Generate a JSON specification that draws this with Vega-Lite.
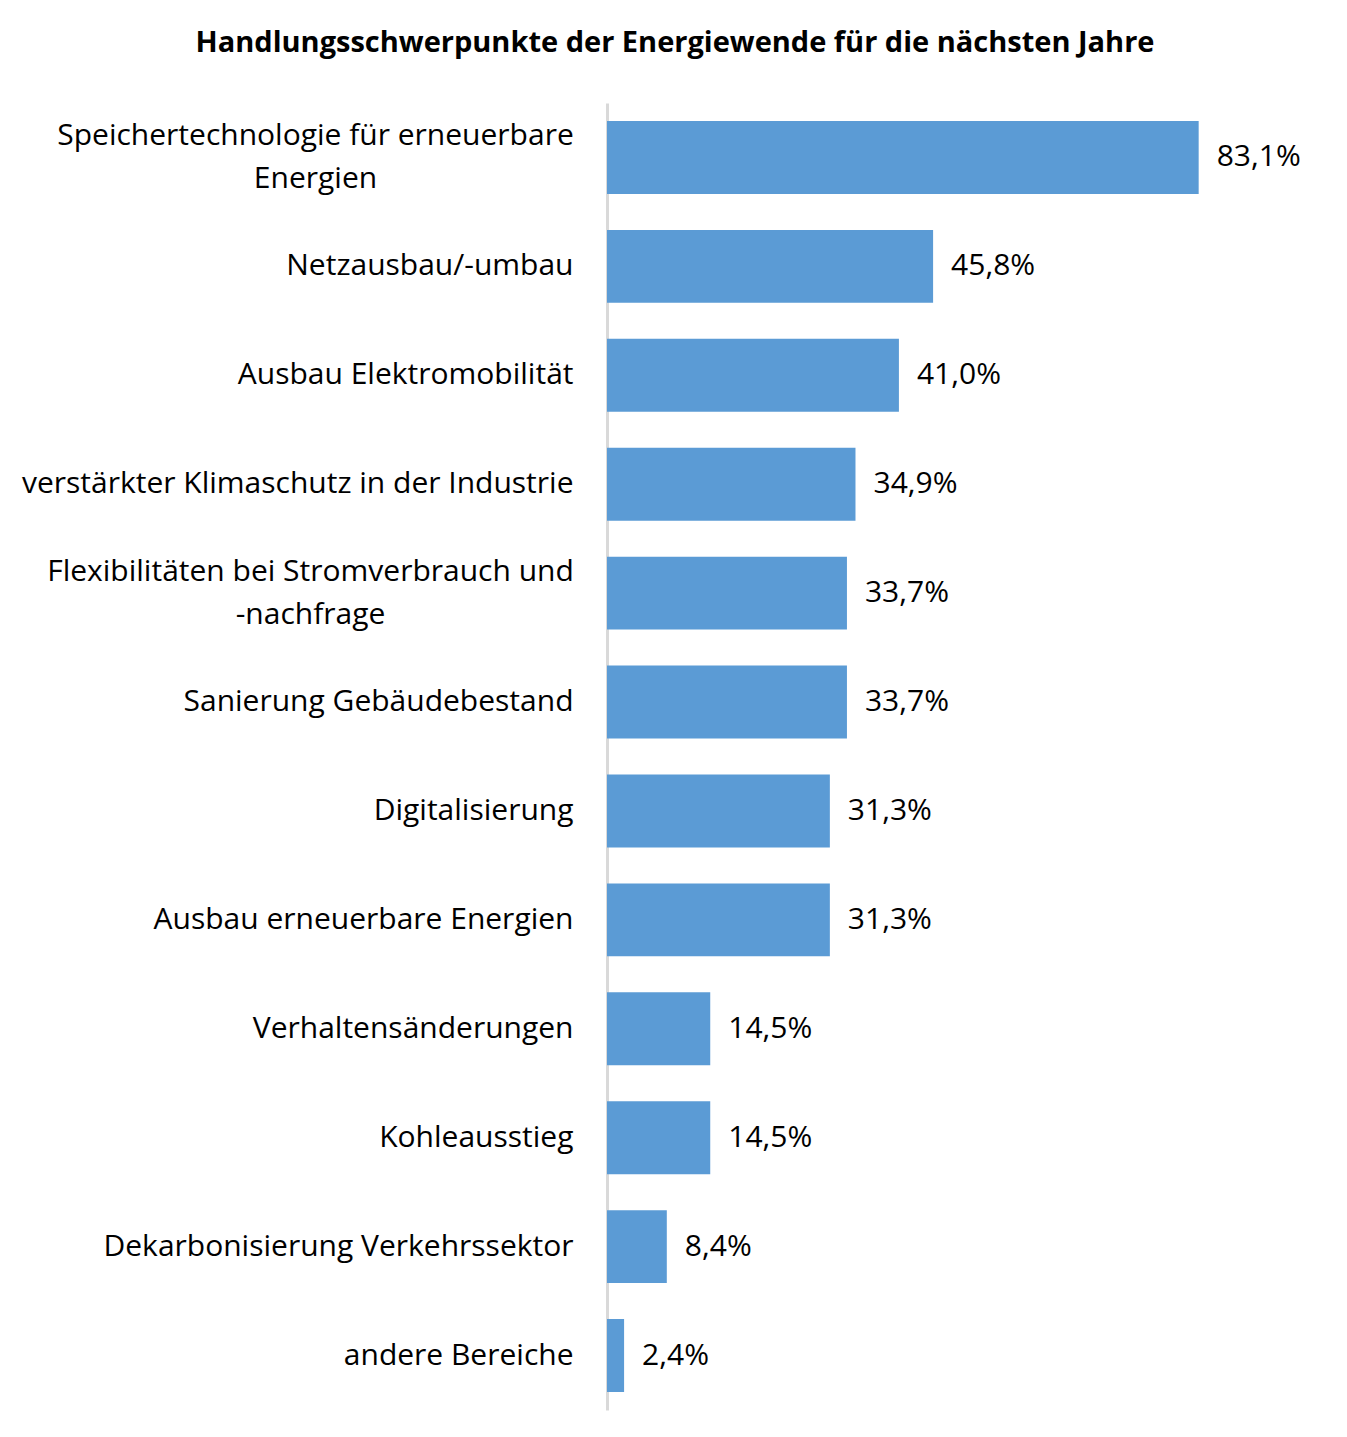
{
  "$schema": "https://vega.github.io/schema/vega-lite/v6.json",
  "width": 712,
  "height": 1307,
  "autosize": "none",
  "padding": {"left": 607, "top": 103, "right": 28, "bottom": 27},
  "background": "white",
  "config": {
    "view": {"stroke": null},
    "locale": {"number": {"decimal": ",", "thousands": ".", "grouping": [3], "currency": ["", " €"]}}
  },
  "title": {
    "text": "Handlungsschwerpunkte der Energiewende für die nächsten Jahre",
    "font": "Open Sans",
    "fontSize": 29,
    "fontWeight": "bold",
    "color": "#000000",
    "anchor": "middle",
    "dx": -288,
    "offset": 45
  },
  "data": {
    "values": [
      {"kategorie": "Speichertechnologie für erneuerbare|Energien", "anteil": 0.831},
      {"kategorie": "Netzausbau/-umbau", "anteil": 0.458},
      {"kategorie": "Ausbau Elektromobilität", "anteil": 0.410},
      {"kategorie": "verstärkter Klimaschutz in der Industrie", "anteil": 0.349},
      {"kategorie": "Flexibilitäten bei Stromverbrauch und|-nachfrage", "anteil": 0.337},
      {"kategorie": "Sanierung Gebäudebestand", "anteil": 0.337},
      {"kategorie": "Digitalisierung", "anteil": 0.313},
      {"kategorie": "Ausbau erneuerbare Energien", "anteil": 0.313},
      {"kategorie": "Verhaltensänderungen", "anteil": 0.145},
      {"kategorie": "Kohleausstieg", "anteil": 0.145},
      {"kategorie": "Dekarbonisierung Verkehrssektor", "anteil": 0.084},
      {"kategorie": "andere Bereiche", "anteil": 0.024}
    ]
  },
  "encoding": {
    "y": {
      "field": "kategorie",
      "type": "nominal",
      "sort": null,
      "scale": {"paddingInner": 0.33, "paddingOuter": 0.165},
      "axis": {
        "title": null,
        "ticks": false,
        "domainColor": "#d9d9d9",
        "domainWidth": 3,
        "labelPadding": {
          "condition": [
            {"test": "indexof(datum.value, 'Speicher') >= 0", "value": 292},
            {"test": "indexof(datum.value, 'Flexib') >= 0", "value": 297}
          ],
          "value": 34
        },
        "labelAlign": {"condition": {"test": "indexof(datum.value, '|') >= 0", "value": "center"}, "value": "right"},
        "labelFont": "Open Sans",
        "labelFontSize": 30,
        "labelColor": "#000000",
        "labelLimit": 0,
        "labelLineHeight": 43,
        "labelOffset": {"condition": {"test": "indexof(datum.value, '|') >= 0", "value": -21.5}, "value": 0},
        "labelExpr": "split(datum.label, '|')"
      }
    },
    "x": {
      "field": "anteil",
      "type": "quantitative",
      "scale": {"domain": [0, 1], "nice": false, "zero": true},
      "axis": null
    }
  },
  "layer": [
    {"mark": {"type": "bar", "color": "#5b9bd5"}},
    {
      "mark": {"type": "text", "align": "left", "baseline": "middle", "dx": 18, "font": "Open Sans", "fontSize": 30, "color": "#000000"},
      "encoding": {"text": {"field": "anteil", "type": "quantitative", "format": ".1%"}}
    }
  ]
}
